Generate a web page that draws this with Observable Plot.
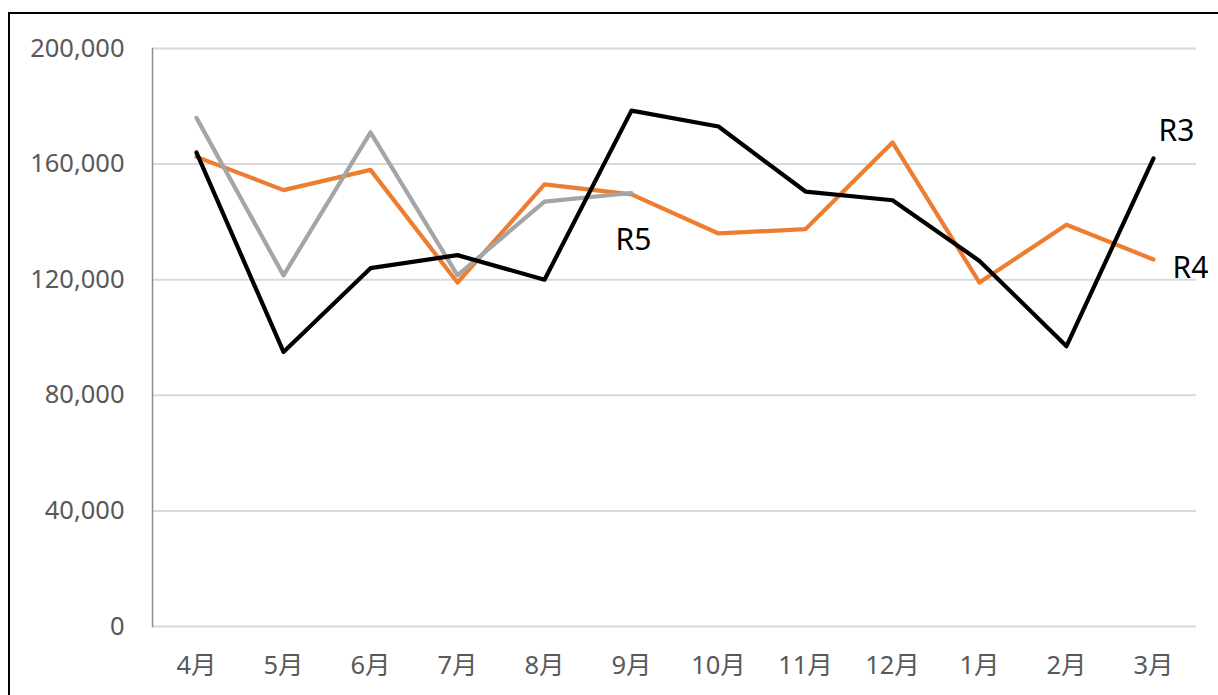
<!DOCTYPE html>
<html>
<head>
<meta charset="utf-8">
<script src="https://cdn.jsdelivr.net/npm/d3@7"></script>
<script src="https://cdn.jsdelivr.net/npm/@observablehq/plot@0.6"></script>
<style>
  html, body { margin: 0; padding: 0; background: #fff; overflow: hidden; }
  #wrap { position: relative; width: 1218px; height: 695px; overflow: hidden; }
  #border { position: absolute; left: 8px; top: 12px; width: 1230px; height: 720px; border: 2.5px solid #000; box-sizing: border-box; }
  #chart { position: absolute; left: 0; top: 0; }
  #chart svg { font-family: "Noto Sans", "Noto Sans CJK JP", sans-serif; }
</style>
</head>
<body>
<div id="wrap"><div id="border"></div><div id="chart"></div></div>
<script>
const months = ["4月","5月","6月","7月","8月","9月","10月","11月","12月","1月","2月","3月"];
const r3 = [164000, 95000, 124000, 128500, 120000, 178500, 173000, 150500, 147500, 126500, 97000, 162000];
const r4 = [162500, 151000, 158000, 119000, 153000, 149500, 136000, 137500, 167500, 119000, 139000, 127000];
const r5 = [176000, 121500, 171000, 121500, 147000, 150000];
const yTicks = [0, 40000, 80000, 120000, 160000, 200000];
const seriesNames = ["R3", "R4", "R5"];
const seriesColors = {R3: "#000000", R4: "#ED7D31", R5: "#A5A5A5"};

const toRows = (name, vals) => vals.map((v, i) => ({series: name, month: months[i], value: v}));
const d3rows = toRows("R3", r3);
const d4rows = toRows("R4", r4);
const d5rows = toRows("R5", r5);

const lineOpts = (color) => ({x: "month", y: "value", stroke: color, strokeWidth: 4.2, strokeLinejoin: "round", strokeLinecap: "round"});

const chart = Plot.plot({
  width: 1218,
  height: 695,
  marginLeft: 152,
  marginRight: 22,
  marginTop: 48,
  marginBottom: 69,
  style: {background: "transparent", fontSize: "25.5px", color: "#595959"},
  x: {type: "point", domain: months, padding: 0.5, label: null, tickSize: 0, tickPadding: 29},
  y: {domain: [0, 200000], ticks: yTicks, tickFormat: d3.format(","), label: null, tickSize: 0, tickPadding: 28},
  marks: [
    Plot.ruleY(yTicks, {stroke: "#d9d9d9", strokeWidth: 2}),
    Plot.frame({anchor: "left", stroke: "#8c8c8c", strokeWidth: 1.5}),
    Plot.line(d4rows, lineOpts(seriesColors.R4)),
    Plot.line(d5rows, lineOpts(seriesColors.R5)),
    Plot.line(d3rows, lineOpts(seriesColors.R3)),
    Plot.text([d3rows[d3rows.length - 1]], {x: "month", y: "value", text: () => seriesNames[0], fill: "#000", fontSize: 30, dx: 23, dy: -27}),
    Plot.text([d4rows[d4rows.length - 1]], {x: "month", y: "value", text: () => seriesNames[1], fill: "#000", fontSize: 30, dx: 37, dy: 9}),
    Plot.text([d5rows[d5rows.length - 1]], {x: "month", y: "value", text: () => seriesNames[2], fill: "#000", fontSize: 30, dx: 2, dy: 47})
  ]
});
document.getElementById("chart").appendChild(chart);
</script>
</body>
</html>
